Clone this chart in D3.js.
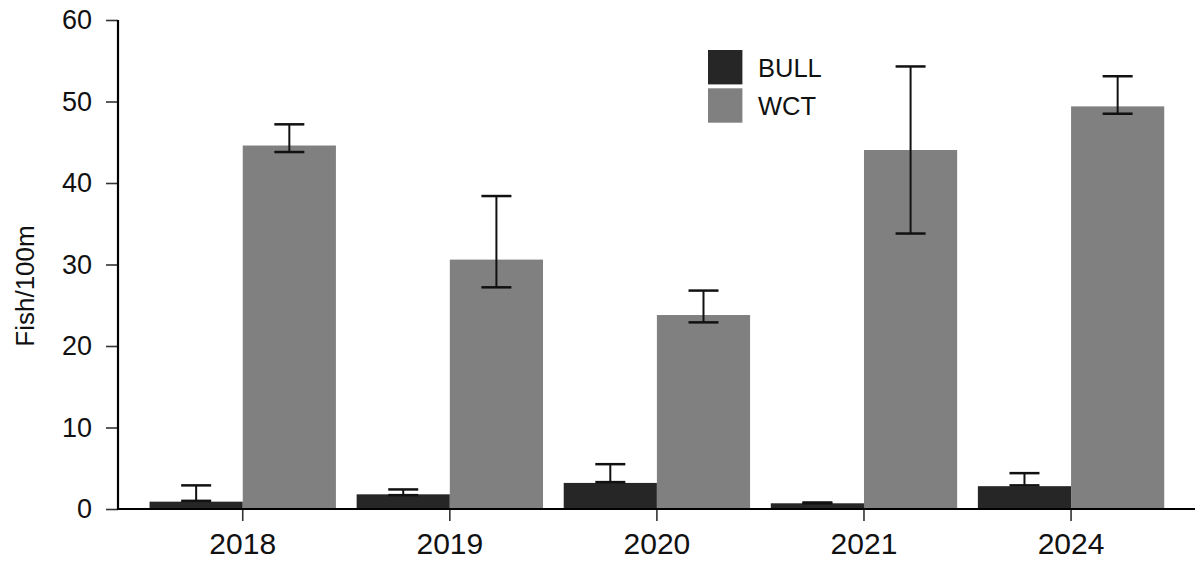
<!DOCTYPE html>
<html><head><meta charset="utf-8">
<script src="https://cdn.jsdelivr.net/npm/d3@7"></script>
<style>body{margin:0;background:#fff}svg text{font-family:"Liberation Sans",Arial,sans-serif}</style>
</head><body><svg id="c" width="1195" height="564"></svg>
<script>
const years = ["2018","2019","2020","2021","2024"];
const species = ["BULL","WCT"];
const bullMean  = [0.9, 1.8, 3.2, 0.7, 2.8];
const bullLower = [1.0, 1.7, 3.3, 0.7, 2.9];
const bullUpper = [2.9, 2.4, 5.5, 0.8, 4.4];
const wctMean   = [44.6, 30.6, 23.8, 44.05, 49.4];
const wctLower  = [43.8, 27.2, 22.9, 33.8, 48.5];
const wctUpper  = [47.2, 38.4, 26.8, 54.3, 53.1];
const yTicks = [0,10,20,30,40,50,60];
const colors = {BULL:"#262626", WCT:"#808080"};

const svg = d3.select("#c");
const y = d3.scaleLinear().domain([0,60]).range([509,20]);
const x = d3.scaleBand().domain(years).range([139.2,1174.6]).paddingInner(0.1).paddingOuter(0.05);
const xs = d3.scaleBand().domain(species).range([0,x.bandwidth()]);

const rows = [];
years.forEach((yr,i)=>{
  rows.push({yr, sp:"BULL", m:bullMean[i], lo:bullLower[i], hi:bullUpper[i]});
  rows.push({yr, sp:"WCT", m:wctMean[i], lo:wctLower[i], hi:wctUpper[i]});
});

svg.selectAll("rect.bar").data(rows).join("rect").attr("class","bar")
  .attr("x",d=>x(d.yr)+xs(d.sp)).attr("width",xs.bandwidth())
  .attr("y",d=>y(d.m)).attr("height",d=>y(0)-y(d.m))
  .attr("fill",d=>colors[d.sp]);

const eb = svg.append("g").attr("stroke","#111").attr("fill","none");
rows.forEach(d=>{
  const cx = x(d.yr)+xs(d.sp)+xs.bandwidth()/2;
  eb.append("line").attr("x1",cx).attr("x2",cx).attr("y1",y(d.hi)).attr("y2",y(d.lo)).attr("stroke-width",2);
  [d.hi,d.lo].forEach(v=>eb.append("line").attr("x1",cx-15).attr("x2",cx+15).attr("y1",y(v)).attr("y2",y(v)).attr("stroke-width",2.5));
});

// y axis
const ya = svg.append("g").attr("transform","translate(118,0)")
  .call(d3.axisLeft(y).tickValues(yTicks).tickSize(12).tickPadding(14));
ya.select(".domain").remove();
ya.selectAll(".tick line").attr("stroke","#333").attr("stroke-width",1.6);
ya.selectAll(".tick text").attr("font-size",27).attr("fill","#111");
svg.append("line").attr("x1",118).attr("x2",118).attr("y1",y(60)).attr("y2",y(0)+1).attr("stroke","#000").attr("stroke-width",2.2);

// x axis
const xa = svg.append("g").attr("transform","translate(0,509)")
  .call(d3.axisBottom(x).tickSize(12).tickPadding(12));
xa.select(".domain").remove();
xa.selectAll(".tick line").attr("stroke","#333").attr("stroke-width",1.6);
xa.selectAll(".tick text").attr("font-size",30).attr("fill","#111");
svg.append("line").attr("x1",117).attr("x2",1195).attr("y1",509).attr("y2",509).attr("stroke","#000").attr("stroke-width",2.2);

// y title
svg.append("text").attr("transform","translate(34,286) rotate(-90)").attr("text-anchor","middle")
  .attr("font-size",26).attr("fill","#111").text("Fish/100m");

// legend
const lg = svg.append("g").attr("transform","translate(708,50)");
species.forEach((s,i)=>{
  lg.append("rect").attr("x",0).attr("y",i*38.3).attr("width",34.4).attr("height",34.4).attr("fill",colors[s]);
  lg.append("text").attr("x",50).attr("y",i*38.3+27).attr("font-size",25.5).attr("fill","#111").text(s);
});
</script></body></html>
